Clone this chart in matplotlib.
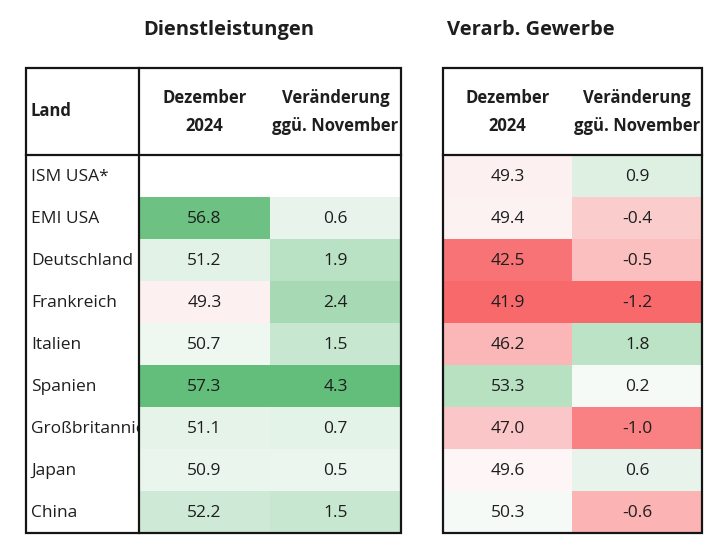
import matplotlib.pyplot as plt
from matplotlib.colors import LinearSegmentedColormap, TwoSlopeNorm
from matplotlib.patches import Rectangle

# Data
laender = ['ISM USA*', 'EMI USA', 'Deutschland', 'Frankreich', 'Italien',
           'Spanien', 'Großbritannien', 'Japan', 'China']
dienst_dez = [None, 56.8, 51.2, 49.3, 50.7, 57.3, 51.1, 50.9, 52.2]
dienst_chg = [None, 0.6, 1.9, 2.4, 1.5, 4.3, 0.7, 0.5, 1.5]
gewerbe_dez = [49.3, 49.4, 42.5, 41.9, 46.2, 53.3, 47.0, 49.6, 50.3]
gewerbe_chg = [0.9, -0.4, -0.5, -1.2, 1.8, 0.2, -1.0, 0.6, -0.6]

titles = ['Dienstleistungen', 'Verarb. Gewerbe']
col_head = [('Dezember', '2024'), ('Veränderung', 'ggü. November')]

plt.rcParams['font.family'] = ['Open Sans', 'DejaVu Sans']

# Excel-like red / white / green scale
cmap = LinearSegmentedColormap.from_list('rwg', ['#F8696B', '#FDFDFD', '#63BE7B'])
levels = [v for v in dienst_dez + gewerbe_dez if v is not None]
changes = [v for v in dienst_chg + gewerbe_chg if v is not None]
norm_lvl = TwoSlopeNorm(vmin=min(levels), vcenter=50, vmax=max(levels))
norm_chg = TwoSlopeNorm(vmin=min(changes), vcenter=0, vmax=max(changes))

fig = plt.figure(figsize=(7.25, 5.57), dpi=100)
ax = fig.add_axes([0, 0, 1, 1])
ax.set_xlim(0, 725)
ax.set_ylim(557, 0)
ax.axis('off')

top, head_bot, row_h = 68, 155, 42
n = len(laender)
bottom = head_bot + n * row_h
txt_col = '#1e1e1e'
line_col = '#151515'
fs_val, fs_head, fs_title = 12.5, 12, 14.5


def draw_block(x0, colw, dez, chg):
    for c, (vals, norm) in enumerate([(dez, norm_lvl), (chg, norm_chg)]):
        for r, v in enumerate(vals):
            if v is None:
                continue
            y = head_bot + r * row_h
            ax.add_patch(Rectangle((x0 + c * colw, y), colw, row_h,
                                   facecolor=cmap(norm(v)), edgecolor='none', zorder=1))
            ax.text(x0 + c * colw + colw / 2, y + row_h / 2 + 1, f'{v:.1f}',
                    ha='center', va='center', fontsize=fs_val, color=txt_col, zorder=3)
        cx = x0 + c * colw + colw / 2
        ax.text(cx, 98, col_head[c][0], ha='center', va='center',
                fontsize=fs_head, fontweight='bold', color=txt_col)
        ax.text(cx, 126, col_head[c][1], ha='center', va='center',
                fontsize=fs_head, fontweight='bold', color=txt_col)


# left table
lx0, lx1, land_w = 26, 401, 113
colw_l = (lx1 - lx0 - land_w) / 2
draw_block(lx0 + land_w, colw_l, dienst_dez, dienst_chg)
clip = Rectangle((lx0, head_bot), land_w, n * row_h, transform=ax.transData,
                 facecolor='none', edgecolor='none')
ax.add_patch(clip)
for r, name in enumerate(laender):
    t = ax.text(lx0 + 5, head_bot + r * row_h + row_h / 2 + 1, name,
                ha='left', va='center', fontsize=fs_val, color=txt_col, zorder=3,
                clip_on=True)
    t.set_clip_path(clip)
ax.text(lx0 + 5, 111, 'Land', ha='left', va='center', fontsize=fs_head,
        fontweight='bold', color=txt_col)
ax.add_patch(Rectangle((lx0, top), lx1 - lx0, bottom - top, facecolor='none',
                       edgecolor=line_col, linewidth=1.6, zorder=4))
ax.plot([lx0, lx1], [head_bot, head_bot], color=line_col, lw=1.6, zorder=4)
ax.plot([lx0 + land_w, lx0 + land_w], [top, bottom], color=line_col, lw=1.6, zorder=4)
ax.text(229, 30, titles[0], ha='center', va='center',
        fontsize=fs_title, fontweight='bold', color=txt_col)

# right table
rx0, rx1 = 443, 702
colw_r = (rx1 - rx0) / 2
draw_block(rx0, colw_r, gewerbe_dez, gewerbe_chg)
ax.add_patch(Rectangle((rx0, top), rx1 - rx0, bottom - top, facecolor='none',
                       edgecolor=line_col, linewidth=1.6, zorder=4))
ax.plot([rx0, rx1], [head_bot, head_bot], color=line_col, lw=1.6, zorder=4)
ax.text(447, 30, titles[1], ha='left', va='center',
        fontsize=fs_title, fontweight='bold', color=txt_col)

fig.savefig('out.png', dpi=100)
